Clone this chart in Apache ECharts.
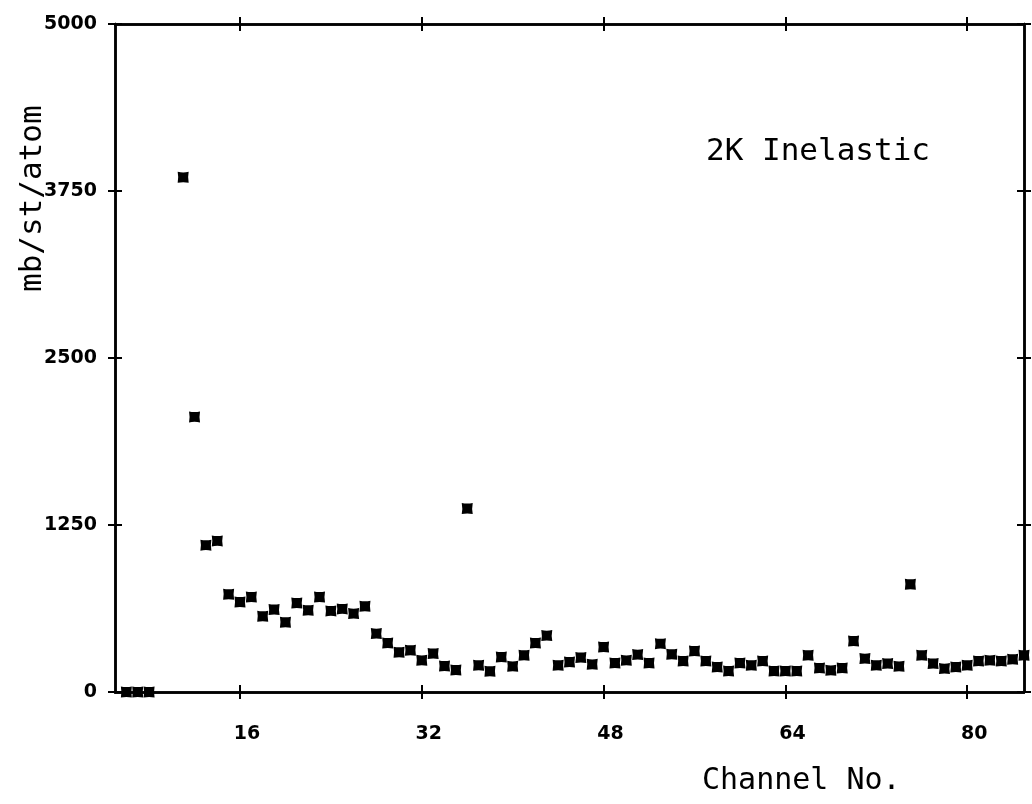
<!DOCTYPE html>
<html>
<head>
<meta charset="utf-8">
<script src="https://cdn.jsdelivr.net/npm/echarts@6/dist/echarts.min.js"></script>
<style>
html,body{margin:0;padding:0;background:#fff;}
#chart{width:1032px;height:804px;}
</style>
</head>
<body>
<div id="chart"></div>
<script>
// Channel numbers and cross sections (mb/st/atom)
var channels = [6,7,8,11,12,13,14,15,16,17,18,19,20,21,22,23,24,25,26,27,28,29,30,31,32,33,34,35,36,37,38,39,40,41,42,43,44,45,46,47,48,49,50,51,52,53,54,55,56,57,58,59,60,61,62,63,64,65,66,67,68,69,70,71,72,73,74,75,76,77,78,79,80,81,82,83,84,85];
var values = [0,0,0,3852,2059,1099,1131,732,674,711,567,617,522,666,612,711,607,622,587,642,437,367,297,312,237,288,195,165,1373,200,155,262,192,275,367,422,200,225,258,207,337,217,237,280,217,362,282,232,307,232,187,157,217,200,232,157,157,157,275,180,162,180,382,250,200,213,192,806,275,213,175,187,200,232,237,232,245,275];
var xTicks = [16,32,48,64,80];
var yTicks = [0,1250,2500,3750,5000];
var titleText = '2K Inelastic';
var xName = 'Channel No.';
var yName = 'mb/st/atom';

var points = channels.map(function(c,i){return [c, values[i]];});

var gridRect = {left:115, right:8, top:24, bottom:112};
var lineStyle = {color:'#000', width:2.5};
var tickStyle = {color:'#000', width:2};
var labelFont = {color:'#000', fontFamily:'DejaVu Sans', fontWeight:'bold', fontSize:19};

function xAx(grid, pos, inside, showLabel){
  return {
    type:'value', gridIndex:grid, position:pos, min:5, max:85,
    axisLine:{show:true, onZero:false, lineStyle:lineStyle},
    axisTick:{show:true, inside:inside, length:7, lineStyle:tickStyle, customValues:xTicks},
    axisLabel:{show:showLabel, customValues:xTicks, margin:33, padding:[0,0,0,14], formatter:function(v){return String(v);}, color:labelFont.color, fontFamily:labelFont.fontFamily, fontWeight:labelFont.fontWeight, fontSize:labelFont.fontSize},
    splitLine:{show:false}
  };
}
function yAx(grid, pos, inside, showLabel){
  return {
    type:'value', gridIndex:grid, position:pos, min:0, max:5000, interval:1250,
    axisLine:{show:true, onZero:false, lineStyle:lineStyle},
    axisTick:{show:true, inside:inside, length:7, lineStyle:tickStyle, customValues:yTicks},
    axisLabel:{show:showLabel, customValues:yTicks, margin:18, formatter:function(v){return String(v);}, color:labelFont.color, fontFamily:labelFont.fontFamily, fontWeight:labelFont.fontWeight, fontSize:labelFont.fontSize},
    splitLine:{show:false}
  };
}

var chart = echarts.init(document.getElementById('chart'), null, {renderer:'canvas'});
chart.setOption({
  backgroundColor:'#fff',
  animation:false,
  grid:[
    Object.assign({}, gridRect),
    Object.assign({}, gridRect)
  ],
  xAxis:[
    xAx(0,'bottom',false,true),
    xAx(0,'top',false,false),
    xAx(1,'bottom',true,false),
    xAx(1,'top',true,false)
  ],
  yAxis:[
    yAx(0,'left',false,true),
    yAx(0,'right',false,false),
    yAx(1,'left',true,false),
    yAx(1,'right',true,false)
  ],
  graphic:[
    {type:'text', left:706, top:136, style:{text:titleText, fill:'#000', font:'31px "DejaVu Sans Mono"'}},
    {type:'text', left:702, top:766, style:{text:xName, fill:'#000', font:'30px "DejaVu Sans Mono"'}},
    {type:'text', x:17, y:292, rotation:Math.PI/2, style:{text:yName, fill:'#000', font:'31px "DejaVu Sans Mono"'}}
  ],
  series:[{
    type:'scatter',
    xAxisIndex:0, yAxisIndex:0,
    data:points,
    symbol:'path://M0,0 Q5,1 10,0 Q9,5 10,10 Q5,9 0,10 Q1,5 0,0 Z',
    symbolSize:11,
    itemStyle:{color:'#000', opacity:1},
    z:5
  }]
});
</script>
</body>
</html>
